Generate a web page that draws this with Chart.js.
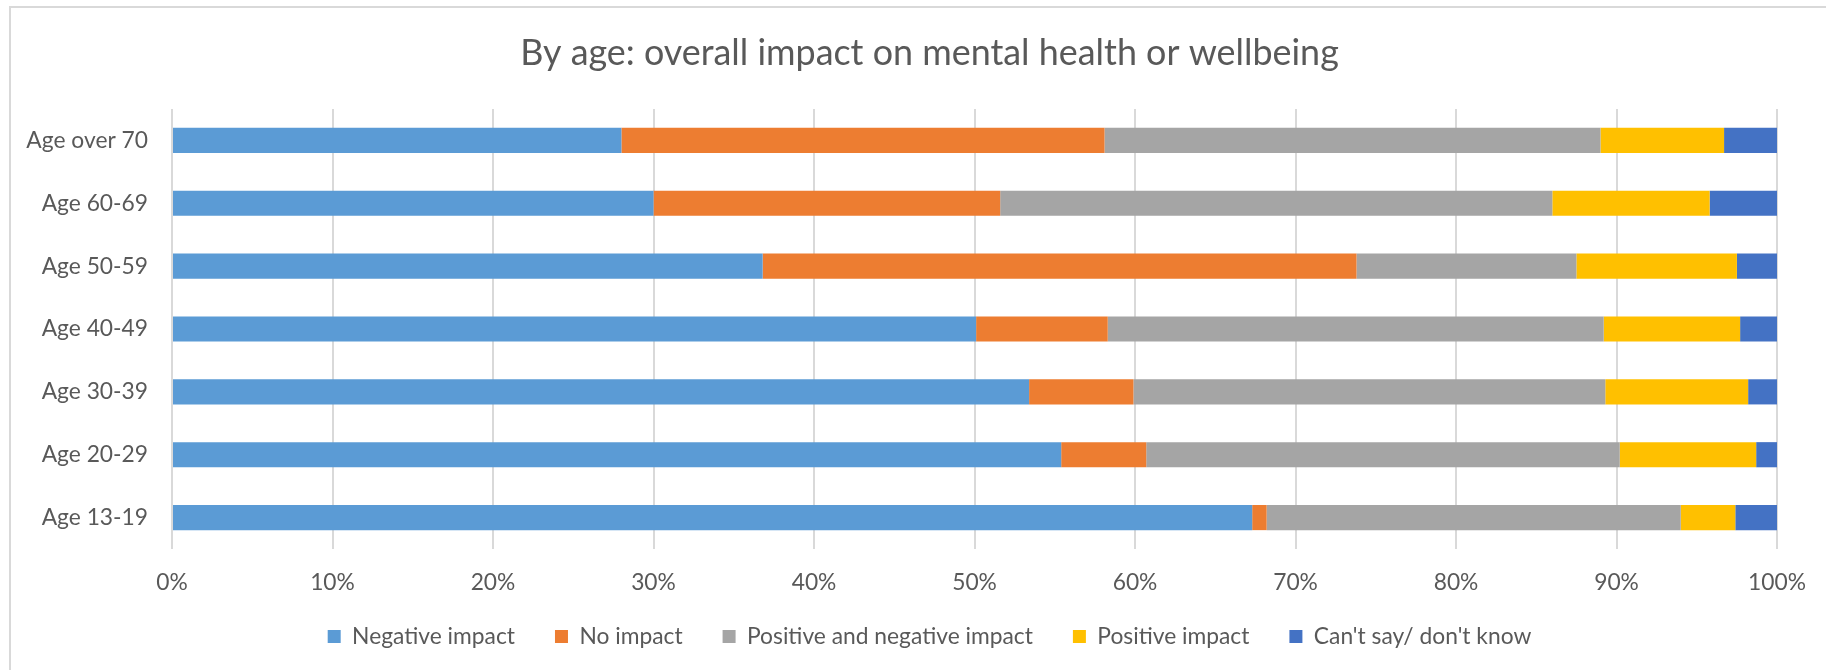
<!DOCTYPE html>
<html><head><meta charset="utf-8">
<script src="https://cdn.jsdelivr.net/npm/chart.js@4.4.1/dist/chart.umd.min.js"></script>
<style>
html,body{margin:0;padding:0;background:#fff;}
#wrap{position:relative;width:1826px;height:670px;overflow:hidden;}
#c{position:absolute;left:0;top:0;}
#frame{position:absolute;left:9px;top:6px;right:0;bottom:0;border-top:2px solid #d9d9d9;border-left:2px solid #d9d9d9;pointer-events:none;}
</style></head><body>
<div id="wrap"><canvas id="c" width="1826" height="670"></canvas><div id="frame"></div></div>
<script>
const chartTitle = 'By age: overall impact on mental health or wellbeing';
const categories = ['Age over 70','Age 60-69','Age 50-59','Age 40-49','Age 30-39','Age 20-29','Age 13-19'];
const seriesNames = ['Negative impact','No impact','Positive and negative impact','Positive impact',"Can't say/ don't know"];
const negativeImpact      = [28.0, 30.0, 36.8, 50.1, 53.4, 55.4, 67.3];
const noImpact            = [30.1, 21.6, 37.0,  8.2,  6.5,  5.3,  0.9];
const positiveAndNegative = [30.9, 34.4, 13.7, 30.9, 29.4, 29.5, 25.8];
const positiveImpact      = [ 7.7,  9.8, 10.0,  8.5,  8.9,  8.5,  3.4];
const cantSay             = [ 3.3,  4.2,  2.5,  2.3,  1.8,  1.3,  2.6];
const tickValues = [0,10,20,30,40,50,60,70,80,90,100];
const tickLabels = ['0%','10%','20%','30%','40%','50%','60%','70%','80%','90%','100%'];

const seriesColors = ['#5B9BD5','#ED7D31','#A5A5A5','#FFC000','#4472C4'];
const seriesValues = [negativeImpact, noImpact, positiveAndNegative, positiveImpact, cantSay];
const FAMILY = 'Lato';
const TEXT = '#595959';

function fitSize(text, target){
  const c = document.createElement('canvas').getContext('2d');
  c.font = '100px ' + FAMILY;
  return 100 * target / c.measureText(text).width;
}

// keep axis labels from being clipped to their (narrowed) scale boxes
const unclipLabels = {
  id: 'unclipLabels',
  afterLayout(chart){
    chart.scales.y.left = 0;
    chart.scales.x.bottom = chart.height;
  }
};

function draw(){
  const labelSize = fitSize('Negative impact', 163);
  const titleSize = fitSize(chartTitle, 819);
  const lf = {family: FAMILY, size: labelSize, weight: 'normal'};
  const legendPad = 40, padBottom = 12;
  const legendH = Math.max(labelSize, 13) + legendPad + 10;
  const xAxisH = 670 - padBottom - legendH - 549;
  new Chart(document.getElementById('c'), {
    type: 'bar',
    data: {
      labels: categories,
      datasets: seriesNames.map((n,i)=>({
        label: n, data: seriesValues[i], backgroundColor: seriesColors[i],
        borderWidth: 0, barPercentage: 0.4, categoryPercentage: 1.0
      }))
    },
    options: {
      indexAxis: 'y', responsive: false, animation: false,
      layout: {padding: {left: 67, right: 34, top: 0, bottom: padBottom}},
      plugins: {
        title: {display: true, text: chartTitle, color: TEXT,
          font: {family: FAMILY, size: titleSize, weight: 'normal', lineHeight: 1.2},
          padding: {top: 53 - 0.6*titleSize, bottom: 56 - 0.6*titleSize}},
        legend: {position: 'bottom', labels: {boxWidth: 13, boxHeight: 13, padding: legendPad, color: TEXT, font: lf}},
        tooltip: {enabled: false}
      },
      scales: {
        x: {stacked: true, min: 0, max: 100,
          afterBuildTicks: (s)=>{ s.ticks = tickValues.map(v=>({value:v})); },
          ticks: {color: TEXT, font: lf, padding: 20, callback: (v)=>tickLabels[tickValues.indexOf(v)]},
          grid: {color: '#d9d9d9', lineWidth: 2, drawTicks: false},
          border: {display: false},
          afterFit: (s)=>{ s.height = xAxisH; }
        },
        y: {stacked: true,
          grid: {display: false, drawTicks: false},
          border: {display: false},
          ticks: {color: TEXT, font: lf, padding: 24},
          afterFit: (s)=>{ s.width = 105; }
        }
      }
    },
    plugins: [unclipLabels]
  });
}
if (document.fonts && document.fonts.load) {
  document.fonts.load('20px ' + FAMILY).then(draw, draw);
} else draw();
</script>
</body></html>
